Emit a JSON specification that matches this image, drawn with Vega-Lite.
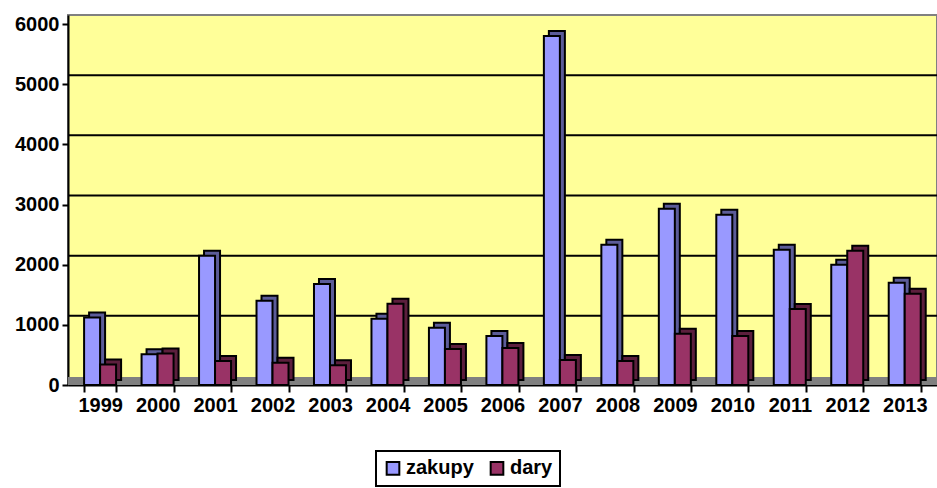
{
  "$schema": "https://vega.github.io/schema/vega-lite/v6.json",
  "autosize": "none",
  "width": 869,
  "height": 370,
  "padding": {"left": 68, "top": 15, "right": 0, "bottom": 103},
  "background": "white",
  "config": {
    "font": "Liberation Sans",
    "view": {"fill": "#FFFF99", "stroke": "#808080", "strokeWidth": 2},
    "axis": {"labelFont": "Liberation Sans", "labelFontWeight": "bold", "labelFontSize": 20, "labelColor": "black", "domainColor": "black", "domainWidth": 2, "tickColor": "black", "tickWidth": 2, "tickSize": 7, "title": null}
  },
  "data": {"values": [
    {"rok": "1999", "seria": "zakupy", "wartosc": 1120}, {"rok": "1999", "seria": "dary", "wartosc": 340},
    {"rok": "2000", "seria": "zakupy", "wartosc": 510}, {"rok": "2000", "seria": "dary", "wartosc": 525},
    {"rok": "2001", "seria": "zakupy", "wartosc": 2150}, {"rok": "2001", "seria": "dary", "wartosc": 400},
    {"rok": "2002", "seria": "zakupy", "wartosc": 1400}, {"rok": "2002", "seria": "dary", "wartosc": 370},
    {"rok": "2003", "seria": "zakupy", "wartosc": 1680}, {"rok": "2003", "seria": "dary", "wartosc": 330},
    {"rok": "2004", "seria": "zakupy", "wartosc": 1100}, {"rok": "2004", "seria": "dary", "wartosc": 1350},
    {"rok": "2005", "seria": "zakupy", "wartosc": 950}, {"rok": "2005", "seria": "dary", "wartosc": 600},
    {"rok": "2006", "seria": "zakupy", "wartosc": 815}, {"rok": "2006", "seria": "dary", "wartosc": 615},
    {"rok": "2007", "seria": "zakupy", "wartosc": 5800}, {"rok": "2007", "seria": "dary", "wartosc": 415},
    {"rok": "2008", "seria": "zakupy", "wartosc": 2330}, {"rok": "2008", "seria": "dary", "wartosc": 400},
    {"rok": "2009", "seria": "zakupy", "wartosc": 2930}, {"rok": "2009", "seria": "dary", "wartosc": 850},
    {"rok": "2010", "seria": "zakupy", "wartosc": 2830}, {"rok": "2010", "seria": "dary", "wartosc": 815},
    {"rok": "2011", "seria": "zakupy", "wartosc": 2250}, {"rok": "2011", "seria": "dary", "wartosc": 1265},
    {"rok": "2012", "seria": "zakupy", "wartosc": 2000}, {"rok": "2012", "seria": "dary", "wartosc": 2230},
    {"rok": "2013", "seria": "zakupy", "wartosc": 1700}, {"rok": "2013", "seria": "dary", "wartosc": 1515}
  ]},
  "encoding": {
    "x": {"field": "rok", "type": "nominal", "scale": {"paddingInner": 0.44, "paddingOuter": 0.28},
      "axis": {"labelAngle": 0, "tickBand": "extent", "labelPadding": 3, "grid": false}},
    "y": {"field": "wartosc", "type": "quantitative", "scale": {"domain": [0, 6150], "nice": false},
      "axis": {"values": [0, 1000, 2000, 3000, 4000, 5000, 6000], "format": "d", "grid": false, "labelPadding": 3, "tickSize": 6}}
  },
  "layer": [
    {
      "data": {"values": [{"siatka": 1000}, {"siatka": 2000}, {"siatka": 3000}, {"siatka": 4000}, {"siatka": 5000}]},
      "mark": {"type": "rule", "color": "black", "strokeWidth": 2, "yOffset": -9, "xOffset": 14},
      "encoding": {"y": {"field": "siatka", "type": "quantitative"}, "x": null}
    },
    {
      "mark": {"type": "rule", "color": "#808080", "strokeWidth": 8, "yOffset": -4},
      "encoding": {"y": {"datum": 0}, "x": null}
    },
    {
      "mark": {"type": "bar", "stroke": "black", "strokeWidth": 2, "yOffset": -5},
      "encoding": {
        "xOffset": {"field": "seria", "type": "nominal", "sort": ["zakupy", "dary"], "scale": {"domain": ["zakupy", "dary"], "paddingInner": 0, "paddingOuter": 0, "range": [5, 37]}},
        "color": {"field": "seria", "type": "nominal", "sort": ["zakupy", "dary"], "scale": {"domain": ["zakupy", "dary"], "range": ["#5C5C99", "#5C1F3D"]}, "legend": null}
      }
    },
    {
      "mark": {"type": "bar", "stroke": "black", "strokeWidth": 2},
      "encoding": {
        "xOffset": {"field": "seria", "type": "nominal", "sort": ["zakupy", "dary"], "scale": {"domain": ["zakupy", "dary"], "paddingInner": 0, "paddingOuter": 0, "range": [0, 32]}},
        "color": {"field": "seria", "type": "nominal", "sort": ["zakupy", "dary"], "scale": {"domain": ["zakupy", "dary"], "range": ["#9999FF", "#993366"]},
          "legend": {"title": null, "orient": "none", "direction": "horizontal", "legendX": 308, "legendY": 436,
            "strokeColor": "black", "fillColor": "white", "padding": 7,
            "symbolType": "square", "symbolSize": 160, "symbolStrokeColor": "black", "symbolStrokeWidth": 2, "symbolOpacity": 1,
            "labelFont": "Liberation Sans", "labelFontWeight": "bold", "labelFontSize": 20, "labelColor": "black", "labelOffset": 3, "columnPadding": 12,
            "encode": {"legend": {"update": {"strokeWidth": {"value": 2}}}}}}
      }
    }
  ],
  "resolve": {"scale": {"color": "independent", "xOffset": "independent"}}
}
